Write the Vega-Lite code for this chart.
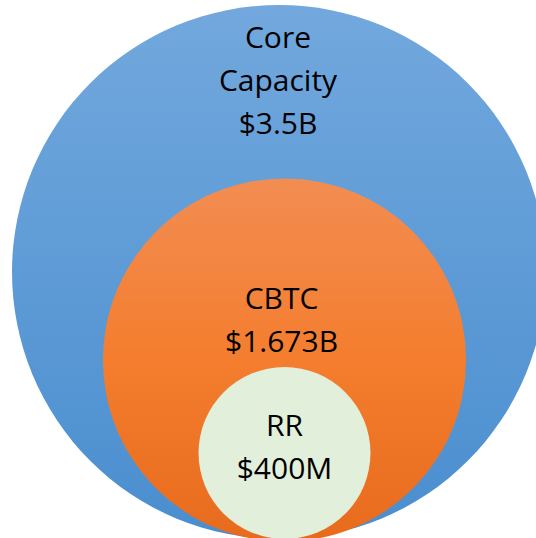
{
  "$schema": "https://vega.github.io/schema/vega-lite/v6.json",
  "width": 536,
  "height": 538,
  "padding": 0,
  "autosize": {"type": "none"},
  "background": "white",
  "view": {"stroke": null},
  "data": {"values": [
    {"name": "Core Capacity", "label": "Core\nCapacity\n$3.5B", "value": 3500, "cx": 279, "cy": 266, "lx": 278, "ly": 490},
    {"name": "CBTC", "label": "CBTC\n$1.673B", "value": 1673, "cx": 284.5, "cy": 178, "lx": 281.5, "ly": 229},
    {"name": "RR", "label": "RR\n$400M", "value": 400, "cx": 284.5, "cy": 85, "lx": 284.5, "ly": 102}
  ]},
  "layer": [
    {
      "transform": [{"filter": "datum.name === 'Core Capacity'"}],
      "mark": {"type": "circle", "opacity": 1, "strokeWidth": 0,
        "fill": {"gradient": "linear", "x1": 0, "y1": 0, "x2": 0, "y2": 1,
          "stops": [{"offset": 0, "color": "#72a8dd"}, {"offset": 1, "color": "#4a8ecf"}]}},
      "encoding": {
        "x": {"field": "cx", "type": "quantitative", "scale": {"domain": [0, 536], "nice": false, "zero": false}, "axis": null},
        "y": {"field": "cy", "type": "quantitative", "scale": {"domain": [0, 538], "nice": false, "zero": false}, "axis": null},
        "size": {"field": "value", "type": "quantitative", "scale": {"type": "pow", "exponent": 1.045, "domain": [0, 3500], "range": [0, 285156]}, "legend": null}
      }
    },
    {
      "transform": [{"filter": "datum.name === 'CBTC'"}],
      "mark": {"type": "circle", "opacity": 1, "strokeWidth": 0,
        "fill": {"gradient": "linear", "x1": 0, "y1": 0, "x2": 0, "y2": 1,
          "stops": [{"offset": 0, "color": "#f28d52"}, {"offset": 0.5, "color": "#f47d2e"}, {"offset": 1, "color": "#e86b1c"}]}},
      "encoding": {
        "x": {"field": "cx", "type": "quantitative", "axis": null},
        "y": {"field": "cy", "type": "quantitative", "axis": null},
        "size": {"field": "value", "type": "quantitative", "legend": null}
      }
    },
    {
      "transform": [{"filter": "datum.name === 'RR'"}],
      "mark": {"type": "circle", "opacity": 1, "strokeWidth": 0, "fill": "#e2efda"},
      "encoding": {
        "x": {"field": "cx", "type": "quantitative", "axis": null},
        "y": {"field": "cy", "type": "quantitative", "axis": null},
        "size": {"field": "value", "type": "quantitative", "legend": null}
      }
    },
    {
      "mark": {"type": "text", "align": "center", "baseline": "alphabetic", "lineBreak": "\n", "lineHeight": 43, "font": "Open Sans", "fontSize": 30, "color": "#000000"},
      "encoding": {
        "x": {"field": "lx", "type": "quantitative", "axis": null},
        "y": {"field": "ly", "type": "quantitative", "axis": null},
        "text": {"field": "label", "type": "nominal"}
      }
    }
  ]
}
